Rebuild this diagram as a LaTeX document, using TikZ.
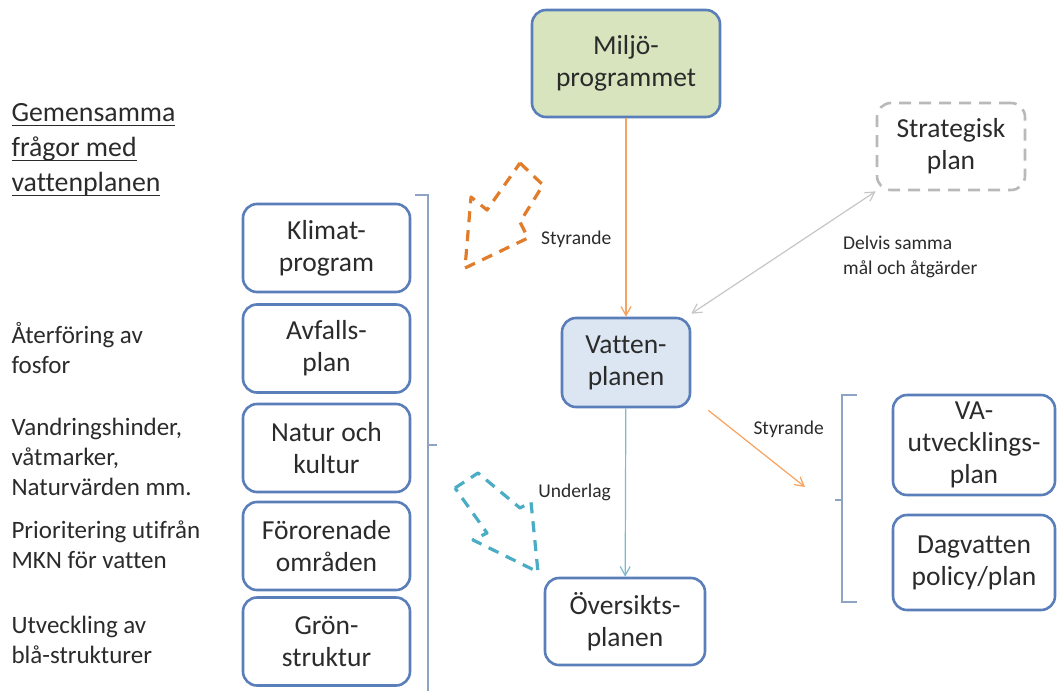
\documentclass[tikz,border=0pt]{standalone}
\usepackage{fontspec}
\setmainfont{Carlito}[Ligatures=NoCommon]
\usetikzlibrary{arrows.meta}
\definecolor{boxblue}{HTML}{5A7EB9}
\definecolor{miljogreen}{HTML}{D7E4BD}
\definecolor{vattenblue}{HTML}{DCE6F2}
\definecolor{linorange}{HTML}{F7A25E}
\definecolor{dashorange}{HTML}{E07C2A}
\definecolor{dashteal}{HTML}{4BACC6}
\definecolor{linteal}{HTML}{7FB8CF}
\definecolor{bracegray}{HTML}{8FA3C4}
\definecolor{txtgray}{HTML}{2B2B2B}
\newcommand{\gemline}[1]{\setbox0\hbox{#1}\rlap{\rule[-4.5pt]{\wd0}{1.3pt}}\box0}
\begin{document}
\begin{tikzpicture}[x=1pt,y=-1pt,
    planbox/.style={draw=boxblue,line width=2.6pt,rounded corners=14pt,align=center,
        inner sep=0pt,text=txtgray,font=\fontsize{27.5}{32}\selectfont},
    leftbox/.style={planbox,minimum width=167pt,minimum height=88pt},
    sidetext/.style={anchor=west,align=left,text=txtgray,font=\fontsize{25}{30}\selectfont},
    smalltext/.style={text=txtgray,font=\fontsize{19.5}{25}\selectfont,inner sep=2pt},
    thinarrow/.style={line width=1.2pt,-{Straight Barb[length=9pt,width=10pt]}},
    blockarrow/.style={line width=3.2pt,dash pattern=on 11pt off 8pt,line join=round},
    bracket/.style={draw=bracegray,line width=1.3pt}]
    \useasboundingbox (0,0) rectangle (1058,691);
    \node[planbox,fill=miljogreen,minimum width=188pt,minimum height=107pt] (miljo) at (626,63.5) {Miljö-\\programmet};
    \node[planbox,draw=gray!55,dash pattern=on 12pt off 8pt,minimum width=148pt,minimum height=87pt] (strat) at (951,146.5) {Strategisk\\plan};
    \node[planbox,fill=vattenblue,minimum width=128pt,minimum height=89pt] (vatten) at (626,362.5) {Vatten-\\planen};
    \node[planbox,minimum width=160pt,minimum height=87pt] (oversikt) at (625,621.5) {Översikts-\\planen};
    \node[planbox,minimum width=162pt,minimum height=100pt] (va) at (974,445) {VA-\\utvecklings-\\plan};
    \node[planbox,minimum width=162pt,minimum height=95pt] (dagv) at (974,562.5) {Dagvatten\\policy/plan};
    \node[leftbox] (klimat) at (326.5,248) {Klimat-\\program};
    \node[leftbox] (avfall) at (326.5,348.5) {Avfalls-\\plan};
    \node[leftbox] (natur) at (326.5,448) {Natur och\\kultur};
    \node[leftbox] (fororen) at (326.5,546) {Förorenade\\områden};
    \node[leftbox] (gron) at (326.5,641.5) {Grön-\\struktur};
    \node[sidetext,font=\fontsize{27.8}{35}\selectfont] (gemensam) at (8,150) {\gemline{Gemensamma}\\\gemline{frågor med}\\\gemline{vattenplanen}};
    \node[sidetext] (fosfor) at (8,348) {Återföring av\\fosfor};
    \node[sidetext] (vandring) at (8,457) {Vandringshinder,\\våtmarker,\\Naturvärden mm.};
    \node[sidetext] (prior) at (8,545) {Prioritering utifrån\\MKN för vatten};
    \node[sidetext] (blastruktur) at (8,640) {Utveckling av\\blå-strukturer};
    \node[smalltext,anchor=west,align=left] (delvis) at (841,257) {Delvis samma\\mål och åtgärder};
    \coordinate (vabrace) at (805,487);
    \draw[thinarrow,linorange] (miljo) -- (vatten) node[smalltext,pos=0.61,left=12pt] {Styrande};
    \draw[thinarrow,{Straight Barb[length=9pt,width=10pt]}-{Straight Barb[length=9pt,width=10pt]},gray!45] (strat.south west) -- ([yshift=3pt]vatten.north east);
    \draw[thinarrow,linteal] (vatten) -- (oversikt) node[smalltext,pos=0.5,left=12pt] {Underlag};
    \draw[thinarrow,linorange] ([xshift=17pt,yshift=-2pt]vatten.south east) -- (vabrace) node[smalltext,pos=0.42,above right=2pt] {Styrande};
    \draw[bracket] (415,195) -- (428,195) -- (428,691) (428,445) -- (437,445);
    \draw[bracket] (857,395) -- (842,395) -- (842,602) -- (857,602) (842,500) -- (835,500);
    \draw[blockarrow,dashorange] (520,163) -- (543,185) -- (520,222) -- (528,238) -- (465,268) -- (471,197) -- (487,210) -- cycle;
    \draw[blockarrow,dashteal] (455,488) -- (478,473) -- (520,508) -- (531,502) -- (538,572) -- (473,540) -- (487,533) -- cycle;
\end{tikzpicture}
\end{document}
